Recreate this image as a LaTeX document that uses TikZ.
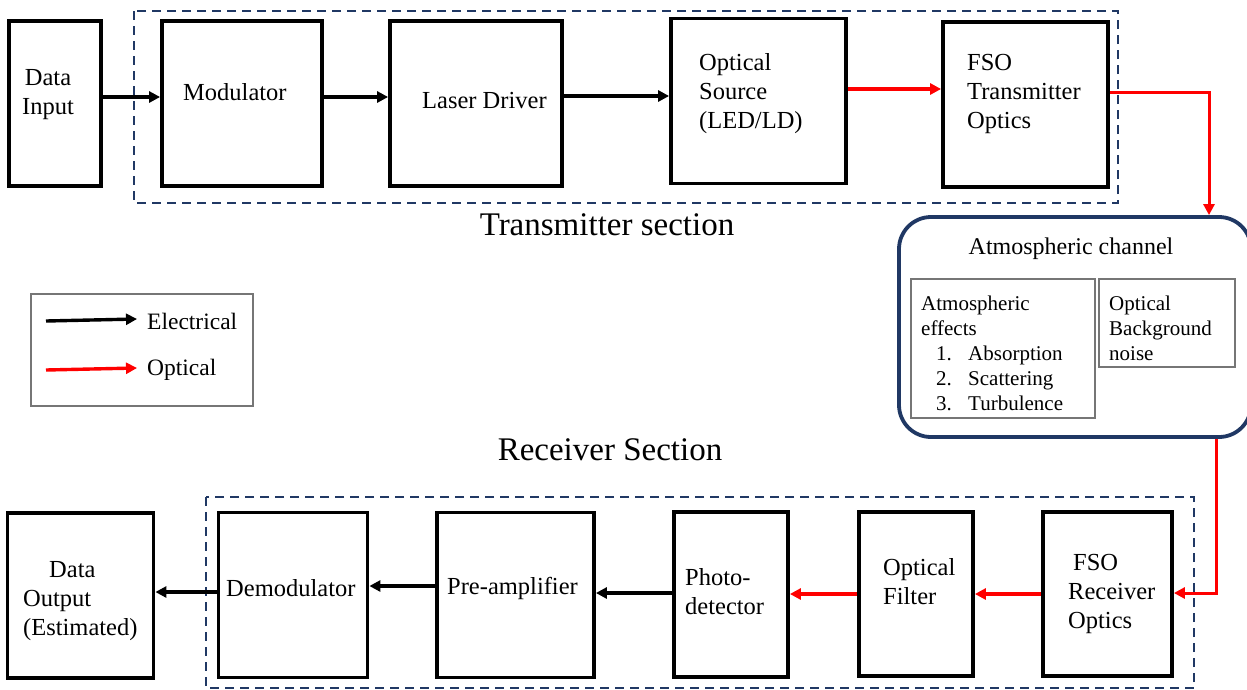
\documentclass[tikz,border=0pt]{standalone}
\usepackage{fontspec}
\setmainfont{Liberation Serif}
\usetikzlibrary{arrows.meta}
\definecolor{navy}{RGB}{32,56,100}
\definecolor{framegray}{RGB}{118,118,118}
\begin{document}
\begin{tikzpicture}[x=1pt,y=-1pt,
  blk/.style={draw=black, line width=3.8pt, inner sep=0pt},
  lbl/.style={font=\fontsize{24.5}{29}\selectfont, inner sep=0pt, align=left, anchor=west},
  clbl/.style={font=\fontsize{24.5}{29}\selectfont, inner sep=0pt, align=center},
  small/.style={font=\fontsize{21}{25}\selectfont, inner sep=0pt, align=left, anchor=west},
  heading/.style={font=\fontsize{33}{38}\selectfont, inner sep=0pt},
  sectionframe/.style={draw=navy, line width=2pt, dash pattern=on 9pt off 6pt},
  thinframe/.style={draw=framegray, line width=1.5pt, inner sep=0pt},
  tip/.style={-{Triangle[length=11pt,width=11pt]}},
  elec/.style={draw=black, line width=3.4pt, tip},
  opt/.style={draw=red, line width=3.4pt, tip},
  optlink/.style={draw=red, line width=3pt, tip},
]
\useasboundingbox (0,0) rectangle (1247,689);

% ---------- transmitter section ----------
\draw[sectionframe] (134,11) rectangle (1118,203);
\node[heading] (txhead) at (607,225) {Transmitter section};

\node[blk, minimum width=92pt,  minimum height=165pt] (din)  at (55,103.5) {};
\node[blk, minimum width=160pt, minimum height=165pt] (mod)  at (242,103.5) {};
\node[blk, minimum width=172pt, minimum height=165pt] (ldr)  at (476,103.5) {};
\node[blk, minimum width=175pt, minimum height=165pt] (osrc) at (758.5,101) {};
\node[blk, minimum width=165pt, minimum height=165pt] (fsot) at (1025.5,104.5) {};

\node[clbl] (dintxt) at (48,95) {Data\\Input};
\node[lbl] (modtxt) at (183,92) {Modulator};
\node[lbl] (ldrtxt) at (422,101) {Laser Driver};
\node[lbl] (osrctxt) at (699,94) {Optical\\Source\\(LED/LD)};
\node[lbl] (fsottxt) at (967,94) {FSO\\Transmitter\\Optics};

\draw[elec] (din.east |- 0,97) -- (mod.west |- 0,97);
\draw[elec] (mod.east |- 0,97) -- (ldr.west |- 0,97);
\draw[elec] (ldr.east |- 0,96) -- (osrc.west |- 0,96);
\draw[opt]  (osrc.east |- 0,89) -- (fsot.west |- 0,89);

% ---------- atmospheric channel ----------
\node[draw=navy, line width=3.8pt, rounded corners=32pt, inner sep=0pt,
      minimum width=352pt, minimum height=220pt] (chan) at (1075,327) {};
\node[font=\fontsize{24}{29}\selectfont, inner sep=0pt] (chantitle) at (1071,249) {Atmospheric channel};
\node[thinframe, minimum width=184pt, minimum height=139pt] (effects) at (1003,348.5) {};
\node[thinframe, minimum width=136pt, minimum height=88pt] (noise) at (1167,323) {};
\node[small] (effectstxt) at (921,353) {Atmospheric\\effects\\
  \hspace*{15pt}\makebox[32pt][l]{1.}Absorption\\
  \hspace*{15pt}\makebox[32pt][l]{2.}Scattering\\
  \hspace*{15pt}\makebox[32pt][l]{3.}Turbulence};
\node[small] (noisetxt) at (1109,328) {Optical\\Background\\noise};

% ---------- legend ----------
\node[thinframe, minimum width=222pt, minimum height=112pt] (legend) at (142,350) {};
\coordinate (le1) at (46,321);
\coordinate (le2) at (137,319);
\coordinate (lo1) at (46,370);
\coordinate (lo2) at (137,368);
\draw[elec] (le1) -- (le2);
\draw[opt] (lo1) -- (lo2);
\node[lbl, font=\fontsize{23.5}{28}\selectfont] (legelec) at (147,321) {Electrical};
\node[lbl, font=\fontsize{23.5}{28}\selectfont] (legopt) at (147,370) {Optical};

% ---------- receiver section ----------
\node[heading] (rxhead) at (610,450) {Receiver Section};
\draw[sectionframe] (206,497) rectangle (1194,688);

\node[blk, minimum width=146pt, minimum height=165pt] (dout)   at (80.5,595.5) {};
\node[blk, minimum width=149pt, minimum height=165pt] (demod)  at (293,595) {};
\node[blk, minimum width=157pt, minimum height=165pt] (preamp) at (515.5,595) {};
\node[blk, minimum width=114pt, minimum height=165pt] (photo)  at (731,594.5) {};
\node[blk, minimum width=114pt, minimum height=164pt] (ofil)   at (916,594) {};
\node[blk, minimum width=129pt, minimum height=164pt] (fsor)   at (1107.5,594) {};

\node[lbl] (douttxt) at (23,601) {\hspace*{26pt}Data\\Output\\(Estimated)};
\node[lbl] (demodtxt) at (226,588) {Demodulator};
\node[lbl] (preamptxt) at (447,588) {Pre-amplifier};
\node[lbl] (phototxt) at (685,592) {Photo-\\detector};
\node[lbl] (ofiltxt) at (883,581.5) {Optical\\Filter};
\node[lbl] (fsortxt) at (1068,594) {\hspace*{5pt}FSO\\Receiver\\Optics};

% optical links through the channel
\draw[optlink] (fsot.east |- 0,92) -| (1209,0 |- chan.north);
\draw[optlink] (1216,0 |- chan.south) |- (fsor.east |- 0,593);

\draw[opt]  (fsor.west |- 0,594) -- (ofil.east |- 0,594);
\draw[opt]  (ofil.west |- 0,594) -- (photo.east |- 0,594);
\draw[elec] (photo.west |- 0,593) -- (preamp.east |- 0,593);
\draw[elec] (preamp.west |- 0,586) -- (demod.east |- 0,586);
\draw[elec] (demod.west |- 0,592) -- (dout.east |- 0,592);
\end{tikzpicture}
\end{document}
